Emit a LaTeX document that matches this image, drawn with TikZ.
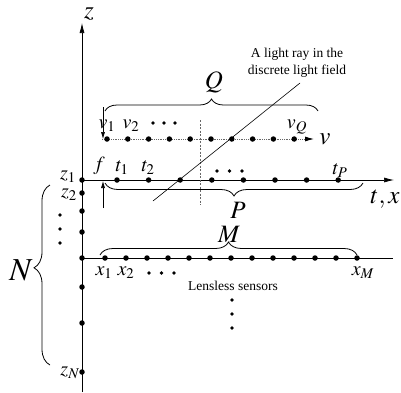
\documentclass[tikz,border=0pt]{standalone}
\usepackage{amsmath,amssymb}
\usepackage{mathptmx}
\usepackage{fontspec}
\setmainfont{Liberation Serif}
\usetikzlibrary{arrows.meta,positioning,decorations.pathreplacing}

\begin{document}
\begin{tikzpicture}[
x=1pt,y=-1pt,
axis/.style={-{Latex[length=10pt,width=5pt]},line width=0.7pt},
gap/.style={-{Latex[length=7pt,width=4pt]},line width=0.6pt},
dot/.style={circle,fill,inner sep=0pt,minimum size=5.5pt},
sdot/.style={circle,fill,inner sep=0pt,minimum size=3.6pt},
brace/.style={decorate,decoration={brace,amplitude=#1},line width=0.8pt},
brace/.default=12pt,
big/.style={inner sep=0pt,font=\fontsize{25}{28}\selectfont},
lab/.style={inner sep=0pt,font=\fontsize{20}{22}\selectfont},
note/.style={inner sep=0pt,align=center,font=\fontsize{13.5}{17}\selectfont}
]
\useasboundingbox (0,0) rectangle (401,392);
\coordinate (zbot) at (82,392);
\coordinate (ztop) at (82,23);
\coordinate (torg) at (82,180);
\coordinate (tend) at (394,180);
\coordinate (xorg) at (82,258);
\coordinate (xend) at (393,258);
\coordinate (vorg) at (102,139);
\coordinate (vend) at (314,139);
\coordinate (dtop) at (200,120);
\coordinate (dbot) at (200,205);
\draw[axis] (zbot) -- (ztop);
\draw[axis] (torg) -- (tend);
\draw[line width=0.7pt] (xorg) -- (xend);
\draw[densely dotted,line width=0.8pt,black!60,-{Latex[length=9pt,width=5pt,black]}] (vorg) -- (vend);
\draw[black!60,line width=0.6pt,dash pattern=on 2pt off 1.5pt] (dtop) -- (dbot);

\foreach \i in {1,...,10} \node[dot] (v\i) at ({107+20.8*(\i-1)},139) {};
\foreach \i in {1,...,8} \node[dot] (t\i) at ({117+31.6*(\i-1)},180) {};
\foreach \i in {1,...,13} \node[dot] (x\i) at ({105+21*(\i-1)},258) {};
\foreach \y [count=\i] in {180,193,211,232,258,287,323,372} \node[dot] (z\i) at (82,\y) {};
\foreach \i in {0,1,2} {
  \node[sdot] (vd\i) at ({153+11*\i},123) {};
  \node[sdot] (td\i) at ({217+12.5*\i},171) {};
  \node[sdot] (xd\i) at ({149+12.5*\i},273) {};
  \node[sdot] (zd\i) at (60,{215+14*\i}) {};
  \node[sdot] (sd\i) at (232,{300+14*\i}) {};
}

\node[big] (zl) at (89,14) {$z$};
\node[big] (vl) at (325,139) {$v$};
\node[big] (txl) at (385,199) {$t,x$};
\node[lab] (fl) at (99,166) {$f$};
\node[lab] (v1l) at (107,126) {$v_1$};
\node[lab] (v2l) at (131,126) {$v_2$};
\node[lab] (vQl) at (297,127) {$v_Q$};
\node[lab] (t1l) at (122,168) {$t_1$};
\node[lab] (t2l) at (148,168) {$t_2$};
\node[lab] (tPl) at (340,171) {$t_P$};
\node[lab] (x1l) at (104,273) {$x_1$};
\node[lab] (x2l) at (126,273) {$x_2$};
\node[lab] (xMl) at (363,273) {$x_M$};
\node[lab] (z1l) at (68,177) {$z_1$};
\node[lab] (z2l) at (69,195) {$z_2$};
\node[lab] (zNl) at (70,373) {$z_N$};

\coordinate (qa) at (105,111);
\coordinate (qb) at (318,111);
\coordinate (pa) at (363,183);
\coordinate (pb) at (105,183);
\coordinate (ma) at (100,255);
\coordinate (mb) at (357,255);
\coordinate (na) at (50,365);
\coordinate (nb) at (50,185);
\draw[brace=12pt] (qa) -- (qb);
\draw[brace=13pt] (pa) -- (pb);
\draw[brace=13pt] (ma) -- (mb);
\draw[brace=16pt,decoration={aspect=0.54}] (na) -- (nb);
\node[big] (ql) at (214,82) {$Q$};
\node[big] (pl) at (238,210) {$P$};
\node[big] (ml) at (229,234) {$M$};
\node[big,font=\fontsize{32}{34}\selectfont] (nl) at (21,270) {$N$};

\coordinate (fa) at (103,107);
\coordinate (fb) at (103,139);
\coordinate (fc) at (103,208);
\coordinate (fd) at (103,181);
\draw[gap] (fa) -- (fb);
\draw[gap] (fc) -- (fd);

\coordinate (raya) at (153,201);
\coordinate (rayb) at (300,83);
\draw[line width=0.6pt] (raya) -- (rayb);
\node[note] (ray) at (297,63) {A light ray in the\\discrete light field};
\node[note] (lens) at (233,286) {Lensless sensors};
\end{tikzpicture}
\end{document}
